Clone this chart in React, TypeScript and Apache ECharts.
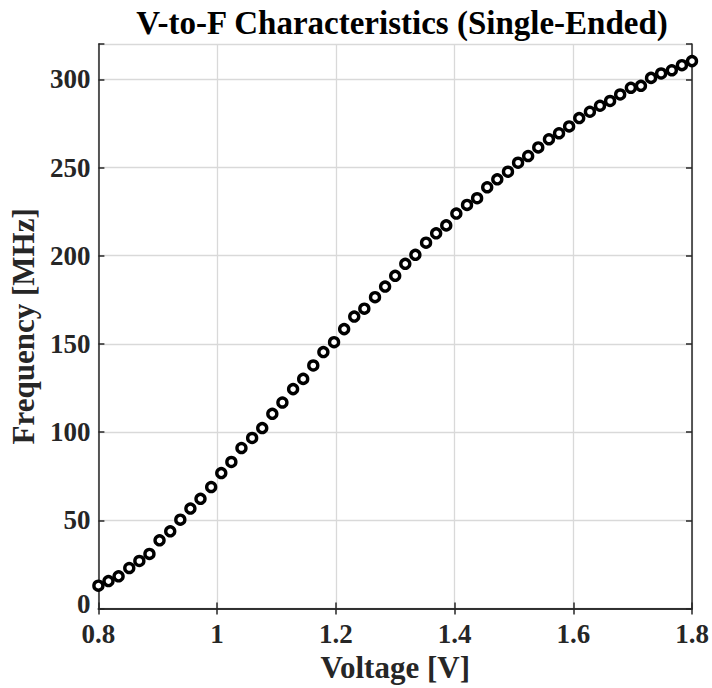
import React, { useEffect, useRef } from "react";
import * as echarts from "echarts";

const voltage = [
  0.8, 0.817, 0.834, 0.852, 0.869, 0.886, 0.903, 0.921, 0.938, 0.955,
  0.972, 0.99, 1.007, 1.024, 1.041, 1.059, 1.076, 1.093, 1.11, 1.128,
  1.145, 1.162, 1.179, 1.197, 1.214, 1.231, 1.248, 1.266, 1.283, 1.3,
  1.317, 1.334, 1.352, 1.369, 1.386, 1.403, 1.421, 1.438, 1.455, 1.472,
  1.49, 1.507, 1.524, 1.541, 1.559, 1.576, 1.593, 1.61, 1.628, 1.645,
  1.662, 1.679, 1.697, 1.714, 1.731, 1.748, 1.766, 1.783, 1.8,
];

const frequency = [
  13.0, 15.6, 18.3, 23.0, 27.0, 31.0, 38.7, 43.8, 50.4, 56.7,
  62.2, 68.9, 76.8, 83.1, 91.0, 96.7, 102.3, 110.4, 116.8, 124.4,
  130.2, 137.8, 145.4, 151.0, 158.4, 165.5, 170.0, 176.5, 182.5, 188.6,
  195.4, 200.5, 207.4, 212.7, 217.2, 223.9, 228.8, 232.6, 238.8, 243.3,
  247.6, 252.7, 256.5, 261.4, 266.0, 269.4, 273.3, 278.0, 281.6, 285.0,
  287.7, 291.4, 295.2, 296.3, 300.8, 303.3, 305.1, 308.0, 310.3,
];

const titleText = "V-to-F Characteristics (Single-Ended)";
const xName = "Voltage [V]";
const yName = "Frequency [MHz]";

const FONT = "'Liberation Serif', 'Times New Roman', serif";
const AX = "#262626";

export default function App() {
  const ref = useRef<HTMLDivElement>(null);

  useEffect(() => {
    document.body.style.margin = "0";
    if (!ref.current) return;
    const chart = echarts.init(ref.current, null, { renderer: "svg" });
    const axisLine = { show: true, lineStyle: { color: AX, width: 1.5 } };
    const tick = { show: true, inside: true, length: 6, lineStyle: { color: AX, width: 1.5 } };
    const labelFont = { fontFamily: FONT, fontWeight: "bold", fontSize: 27, color: AX };
    chart.setOption({
      animation: false,
      backgroundColor: "#fff",
      title: {
        text: titleText,
        left: 397,
        top: 1,
        textAlign: "center",
        textStyle: { fontFamily: FONT, fontWeight: "bold", fontSize: 33, color: "#000" },
      },
      grid: { left: 97, right: 20, top: 44, bottom: 79, containLabel: false },
      xAxis: [
        {
          type: "value",
          min: 0.8,
          max: 1.8,
          interval: 0.2,
          name: xName,
          nameLocation: "middle",
          nameGap: 43,
          nameTextStyle: { fontFamily: FONT, fontWeight: "bold", fontSize: 31, color: AX },
          axisLine,
          axisTick: tick,
          axisLabel: {
            ...labelFont,
            lineHeight: 22,
            margin: 14,
            formatter: (v: number) => String(Math.round(v * 10) / 10),
          },
          splitLine: { show: true, lineStyle: { color: "#d9d9d9", width: 1.3 } },
        },
        {
          type: "value",
          position: "top",
          min: 0.8,
          max: 1.8,
          interval: 0.2,
          axisLine,
          axisTick: tick,
          axisLabel: { show: false },
          splitLine: { show: false },
        },
      ],
      yAxis: [
        {
          type: "value",
          min: 0,
          max: 320,
          interval: 50,
          name: yName,
          nameLocation: "middle",
          nameGap: 57,
          nameTextStyle: { fontFamily: FONT, fontWeight: "bold", fontSize: 31, color: AX },
          axisLine,
          axisTick: tick,
          axisLabel: {
            ...labelFont,
            lineHeight: 20,
            margin: 8,
            formatter: (v: number) =>
              v === 0 ? "{z|0}" : v % 50 === 0 ? String(v) : "",
            rich: {
              z: { ...labelFont, lineHeight: 20, padding: [0, 0, 9, 0] },
            },
          },
          splitLine: { show: true, lineStyle: { color: "#d9d9d9", width: 1.3 } },
        },
        {
          type: "value",
          position: "right",
          min: 0,
          max: 320,
          interval: 50,
          axisLine,
          axisTick: tick,
          axisLabel: { show: false },
          splitLine: { show: false },
        },
      ],
      series: [
        {
          type: "scatter",
          data: voltage.map((v, i) => [v, frequency[i]]),
          symbol: "circle",
          symbolSize: 9,
          itemStyle: { color: "#fff", borderColor: "#000", borderWidth: 3.4, opacity: 1 },
          clip: false,
        },
      ],
    });
    return () => chart.dispose();
  }, []);

  return <div ref={ref} style={{ width: 712, height: 688 }} />;
}
